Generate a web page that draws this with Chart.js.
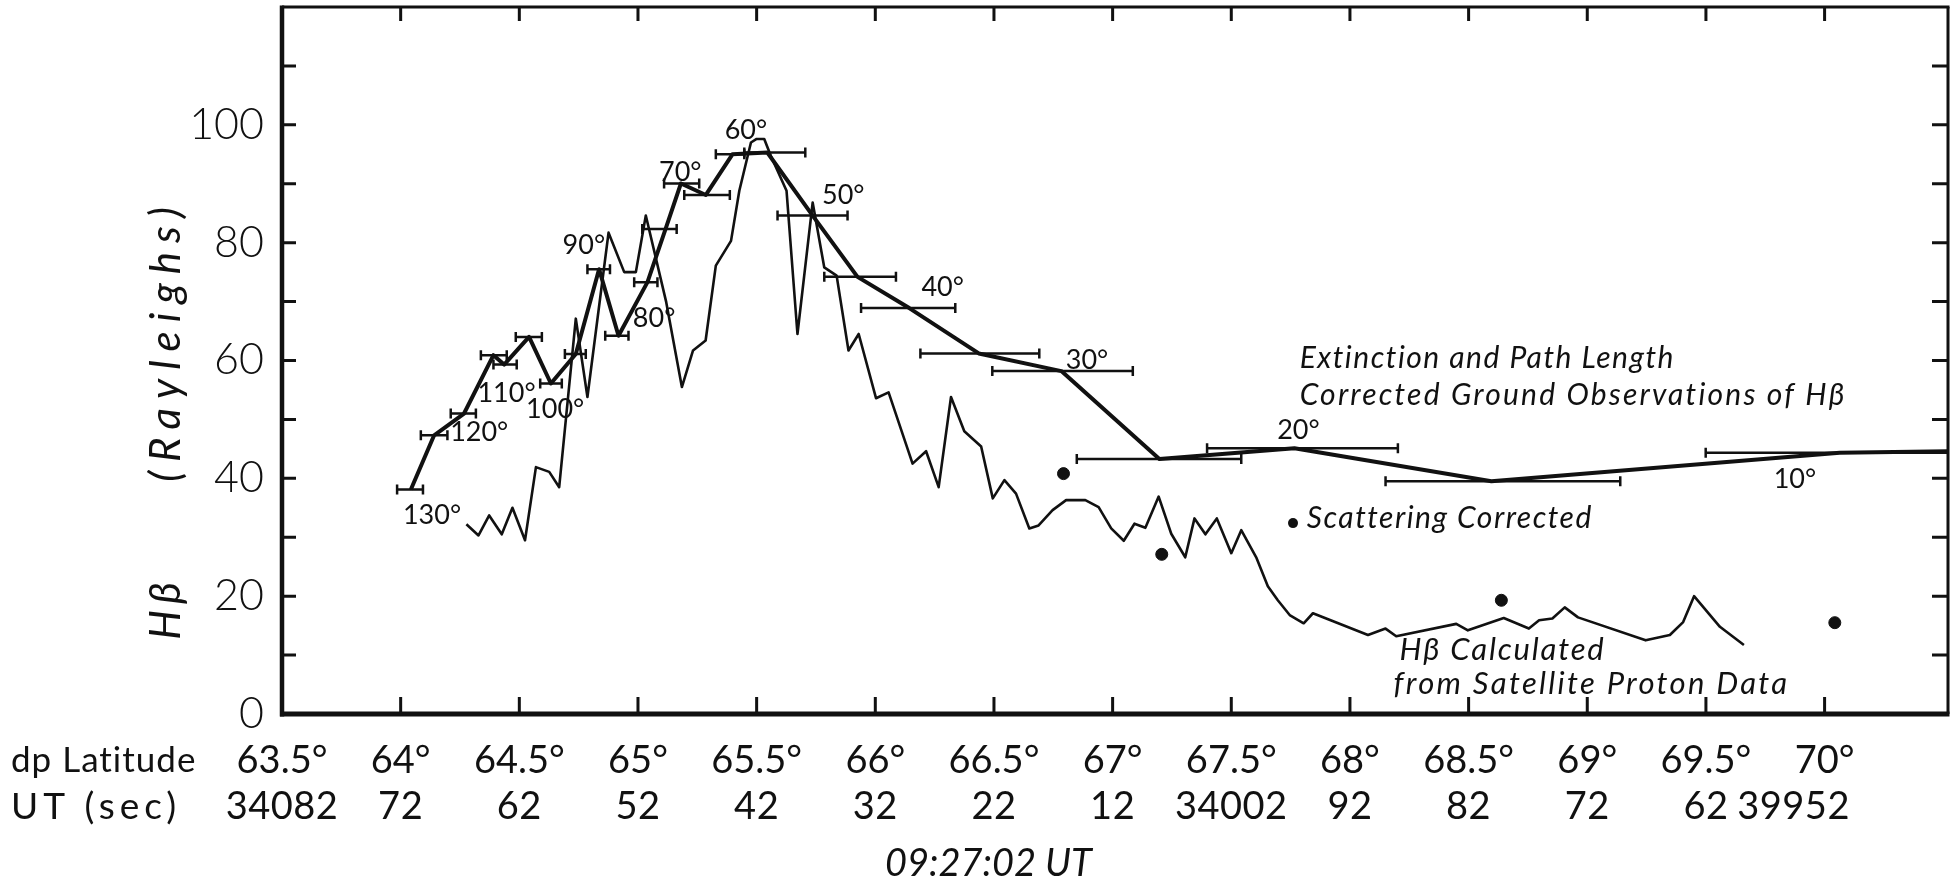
<!DOCTYPE html>
<html>
<head>
<meta charset="utf-8">
<script src="https://cdn.jsdelivr.net/npm/chart.js@4.4.1/dist/chart.umd.min.js"></script>
<style>
html,body{margin:0;padding:0;background:#fff;}
canvas{display:block;}
</style>
</head>
<body>
<canvas id="c" width="1955" height="886"></canvas>
<script>
// ---------------- data ----------------
const latTicks = [63.5,64,64.5,65,65.5,66,66.5,67,67.5,68,68.5,69,69.5,70];
const latTickLabels = ['63.5°','64°','64.5°','65°','65.5°','66°','66.5°','67°','67.5°','68°','68.5°','69°','69.5°','70°'];
const utTickLabels = ['34082','72','62','52','42','32','22','12','34002','92','82','72','62','39952'];
const yTicks = [0,20,40,60,80,100];
const yMinorTicks = [10,20,30,40,50,60,70,80,90,100,110];

// H-beta calculated from satellite proton data (thin line)
const satLat = [64.277,64.328,64.373,64.426,64.471,64.524,64.570,64.626,64.668,64.738,64.787,64.876,64.942,64.991,65.033,65.119,65.185,65.232,65.285,
  65.328,65.392,65.427,65.476,65.500,65.532,65.560,65.626,65.672,65.736,65.785,65.837,65.887,65.930,66.003,66.056,66.157,66.214,66.267,66.319,66.375,66.446,66.495,66.544,66.593,66.649,
  66.688,66.747,66.804,66.885,66.941,66.994,67.047,67.092,67.138,67.194,67.247,67.306,67.345,67.391,67.439,67.500,67.542,67.605,67.654,67.696,67.746,67.805,67.844,
  68.076,68.150,68.195,68.448,68.497,68.648,68.754,68.797,68.853,68.905,68.961,69.246,69.348,69.404,69.450,69.559,69.660];
const satVal = [32.2,30.3,33.7,30.5,35.0,29.5,41.9,41.1,38.5,67.1,53.8,81.7,75.0,75.0,84.6,69.9,55.5,61.7,63.4,
  76.1,80.3,88.8,97.0,97.6,97.6,94.7,88.8,64.5,86.8,75.8,74.4,61.7,64.5,53.6,54.6,42.5,44.6,38.5,53.8,48.0,45.4,36.6,39.7,37.4,31.5,
  32.0,34.6,36.3,36.3,35.1,31.5,29.4,32.3,31.6,36.9,30.6,26.6,33.2,30.5,33.2,27.3,31.2,26.6,21.7,19.3,16.8,15.4,17.1,
  13.4,14.5,13.2,15.3,14.2,16.3,14.5,15.9,16.2,18.1,16.4,12.5,13.4,15.6,20.0,14.8,11.7];

// Extinction and path length corrected ground observations (thick line + horizontal bars)
const groundLat = [64.043,64.141,64.267,64.391,64.436,64.541,64.633,64.738,64.836,64.918,65.040,65.116,65.181,65.286,65.398,65.545,65.736,65.925,66.143,66.436,66.784,67.197,67.766,68.596,70.064,70.52];
const groundVal = [38.1,47.3,51.0,60.9,59.3,64.0,56.1,61.1,75.5,64.2,73.3,82.3,90.05,88.1,95.0,95.3,84.6,74.2,68.9,61.2,58.2,43.3,45.1,39.5,44.35,44.6];
const groundLo  = [63.985,64.085,64.211,64.338,64.391,64.485,64.588,64.692,64.787,64.862,64.984,65.018,65.110,65.195,65.328,65.448,65.588,65.785,65.940,66.190,66.493,66.849,67.398,68.150,69.499,null];
const groundHi  = [64.094,64.197,64.317,64.447,64.489,64.595,64.679,64.780,64.882,64.960,65.082,65.163,65.258,65.387,65.448,65.705,65.883,66.087,66.337,66.691,67.085,67.542,68.202,69.139,70.52,null];

// Scattering corrected points
const scatLat = [66.793,67.207,68.638,70.043];
const scatVal = [40.8,27.1,19.3,15.5];

// Zenith-angle annotations
const degLabels = ['130°','120°','110°','100°','90°','80°','70°','60°','50°','40°','30°','20°','10°'];
const degLat = [64.132,64.331,64.446,64.651,64.772,65.068,65.178,65.455,65.865,66.284,66.892,67.783,69.875];
const degVal = [33.7,47.8,54.4,51.8,79.5,67.1,91.9,99.0,88.0,72.4,60.0,48.1,39.8];

// ---------------- style ----------------
const INK = '#111';
const FONT = "Lato, 'DejaVu Sans', sans-serif";
const UT_ROW_Y = 807;
const UT_LAST_SHIFT = -31; // last UT label is written slightly left of its tick

const toXY = (xs, ys) => xs.map((v, i) => ({x: v, y: ys[i]}));

function spacedText(ctx, text, x, y, spacing) {
  ctx.save();
  ctx.letterSpacing = spacing + 'px';
  ctx.fillText(text, x, y);
  ctx.restore();
}

const deco = {
  id: 'deco',
  afterDatasetsDraw(chart) {
    const {ctx, chartArea: a, scales: {x, y}} = chart;
    ctx.save();
    ctx.strokeStyle = INK;
    ctx.fillStyle = INK;
    ctx.lineCap = 'butt';

    // error bars
    ctx.lineWidth = 2.5;
    groundLat.forEach((lat, i) => {
      if (groundLo[i] == null) return;
      const x1 = x.getPixelForValue(groundLo[i]);
      const x2r = x.getPixelForValue(groundHi[i]);
      const x2 = Math.min(x2r, a.right);
      const py = y.getPixelForValue(groundVal[i]);
      ctx.beginPath();
      ctx.moveTo(x1, py); ctx.lineTo(x2, py);
      ctx.moveTo(x1, py - 5); ctx.lineTo(x1, py + 5);
      if (x2r < a.right - 2) { ctx.moveTo(x2, py - 5); ctx.lineTo(x2, py + 5); }
      ctx.stroke();
    });

    // frame
    ctx.beginPath(); ctx.lineWidth = 4.5;
    ctx.moveTo(a.left, a.top - 1.5); ctx.lineTo(a.left, a.bottom + 2.5); ctx.stroke();
    ctx.beginPath(); ctx.lineWidth = 5;
    ctx.moveTo(a.left - 2, a.bottom); ctx.lineTo(a.right + 1.5, a.bottom); ctx.stroke();
    ctx.beginPath(); ctx.lineWidth = 3;
    ctx.moveTo(a.left, a.top); ctx.lineTo(a.right + 1.5, a.top); ctx.stroke();
    ctx.beginPath(); ctx.lineWidth = 3;
    ctx.moveTo(a.right, a.top); ctx.lineTo(a.right, a.bottom); ctx.stroke();

    // inward ticks
    ctx.lineWidth = 3;
    ctx.beginPath();
    yMinorTicks.forEach(v => {
      const py = y.getPixelForValue(v);
      ctx.moveTo(a.left, py); ctx.lineTo(a.left + 14, py);
      ctx.moveTo(a.right, py); ctx.lineTo(a.right - 16, py);
    });
    latTicks.slice(1).forEach(v => {
      const px = x.getPixelForValue(v);
      ctx.moveTo(px, a.bottom); ctx.lineTo(px, a.bottom - 17);
      ctx.moveTo(px, a.top); ctx.lineTo(px, a.top + 14);
    });
    ctx.stroke();

    // zenith-angle labels
    ctx.font = `400 27px ${FONT}`;
    ctx.textAlign = 'center';
    ctx.textBaseline = 'middle';
    degLabels.forEach((t, i) => {
      ctx.fillText(t, x.getPixelForValue(degLat[i]), y.getPixelForValue(degVal[i]));
    });

    // UT (sec) row under the latitude ticks
    ctx.font = `400 38px ${FONT}`;
    ctx.textAlign = 'center';
    latTicks.forEach((v, i) => {
      const shift = i === latTicks.length - 1 ? UT_LAST_SHIFT : 0;
      spacedText(ctx, utTickLabels[i], x.getPixelForValue(v) + shift, UT_ROW_Y, 0.5);
    });

    // captions inside the plot
    ctx.font = `italic 400 30px ${FONT}`;
    ctx.textAlign = 'left';
    const lx = x.getPixelForValue(67.788);
    spacedText(ctx, 'Extinction and Path Length', lx, y.getPixelForValue(60.3), 1.5);
    spacedText(ctx, 'Corrected Ground Observations of H\u03B2', lx, y.getPixelForValue(54.1), 2.2);
    ctx.beginPath();
    ctx.arc(x.getPixelForValue(67.76), y.getPixelForValue(32.4), 5, 0, Math.PI * 2);
    ctx.fill();
    spacedText(ctx, 'Scattering Corrected', x.getPixelForValue(67.818), y.getPixelForValue(33.2), 1.5);
    ctx.font = `italic 400 31px ${FONT}`;
    spacedText(ctx, 'H\u03B2 Calculated', x.getPixelForValue(68.209), y.getPixelForValue(10.8), 1.8);
    spacedText(ctx, 'from Satellite Proton Data', x.getPixelForValue(68.184), y.getPixelForValue(5.1), 2.3);

    // axis title (rotated)
    ctx.font = `italic 400 42px ${FONT}`;
    ctx.textAlign = 'center';
    ctx.textBaseline = 'middle';
    ctx.save();
    ctx.translate(166, 608); ctx.rotate(-Math.PI / 2);
    spacedText(ctx, 'H\u03B2', 0, 0, 6);
    ctx.restore();
    ctx.save();
    ctx.translate(166, 340); ctx.rotate(-Math.PI / 2);
    spacedText(ctx, '(Rayleighs)', 0, 0, 9);
    ctx.restore();

    // row captions
    ctx.font = `400 35px ${FONT}`;
    ctx.textAlign = 'left';
    ctx.textBaseline = 'middle';
    spacedText(ctx, 'dp Latitude', 11, 761, 1);
    ctx.font = `400 37px ${FONT}`;
    spacedText(ctx, 'UT (sec)', 11, UT_ROW_Y, 5);

    ctx.font = `italic 400 38px ${FONT}`;
    spacedText(ctx, '09:27:02 UT', 885, 864, 0);

    ctx.restore();
  }
};

new Chart(document.getElementById('c'), {
  type: 'scatter',
  data: {
    datasets: [
      {
        label: 'Ground',
        data: toXY(groundLat, groundVal),
        showLine: true, borderColor: INK, borderWidth: 4, pointRadius: 0,
        tension: 0, borderJoinStyle: 'round', fill: false
      },
      {
        label: 'Satellite',
        data: toXY(satLat, satVal),
        showLine: true, borderColor: INK, borderWidth: 2.6, pointRadius: 0,
        tension: 0, borderJoinStyle: 'round', fill: false
      },
      {
        label: 'Scattering Corrected',
        data: toXY(scatLat, scatVal),
        showLine: false, pointRadius: 6, pointStyle: 'circle',
        backgroundColor: INK, borderColor: INK, borderWidth: 1
      }
    ]
  },
  options: {
    responsive: false,
    animation: false,
    devicePixelRatio: 1,
    layout: {padding: {top: 6, right: 7, left: 0, bottom: 0}},
    plugins: {legend: {display: false}, tooltip: {enabled: false}},
    scales: {
      x: {
        type: 'linear', min: 63.5, max: 70.52,
        afterBuildTicks: s => { s.ticks = latTicks.map(v => ({value: v})); },
        afterFit: s => { s.height = 172; s.paddingLeft = 0; s.paddingRight = 0; },
        grid: {display: false, drawTicks: false},
        border: {display: false},
        ticks: {
          autoSkip: false, maxRotation: 0, minRotation: 0, padding: 24, color: INK,
          font: {family: FONT, size: 38, weight: '400', lineHeight: 1.2},
          callback: (v, i) => latTickLabels[i]
        }
      },
      y: {
        type: 'linear', min: 0, max: 120,
        afterBuildTicks: s => { s.ticks = yTicks.map(v => ({value: v})); },
        afterFit: s => { s.width = 282; s.paddingTop = 0; s.paddingBottom = 0; },
        grid: {display: false, drawTicks: false},
        border: {display: false},
        ticks: {
          padding: 18, color: INK,
          font: {family: FONT, size: 43, weight: '300'}
        }
      }
    }
  },
  plugins: [deco]
});
</script>
</body>
</html>
